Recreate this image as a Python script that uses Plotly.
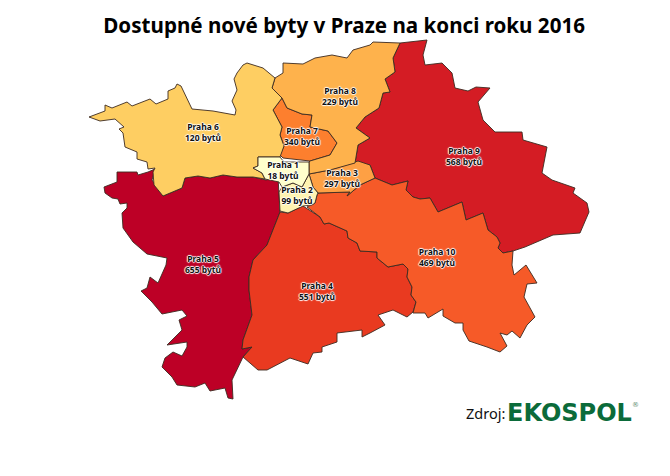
import plotly.graph_objects as go

# outlines, in picture pixels
praha_1 = [(258,157),(280,157),(284,162),(309,162),(309,174),(302,187),(293,183),(282,187),(279,182),
           (265,179),(262,173),(253,168),(258,166)]
praha_2 = [(282,187),(293,183),(302,187),(309,174),(313,187),(318,193),(317,195),(315,203),(312,205),
           (303,206),(288,213),(280,211),(279,192)]
praha_3 = [(309,174),(330,170),(358,161),(370,165),(375,178),(360,185),(347,196),(350,192),(318,193),
           (313,187)]
praha_4 = [(280,212),(288,213),(303,206),(320,217),(324,224),(329,223),(347,231),(348,238),(357,243),
           (360,251),(377,252),(377,258),(388,267),(403,264),(408,269),(407,277),(412,287),(411,295),
           (416,302),(413,312),(407,317),(393,310),(378,315),(385,325),(370,333),(362,337),(362,330),
           (337,333),(337,342),(322,347),(322,352),(313,353),(308,364),(290,358),(267,370),(258,370),
           (243,357),(252,347),(242,349),(243,340),(252,315),(249,290),(249,277),(253,260),(267,245)]
praha_5 = [(117,172),(137,172),(138,175),(148,172),(155,169),(152,180),(163,196),(182,188),(185,178),
           (198,176),(210,178),(223,175),(237,177),(253,177),(266,180),(278,177),(280,212),(267,245),
           (253,260),(249,277),(249,290),(252,315),(243,340),(242,349),(252,347),(243,357),(232,380),
           (233,399),(228,398),(225,388),(210,391),(205,383),(195,387),(177,385),(172,377),(162,367),
           (165,358),(173,352),(182,356),(187,347),(187,342),(167,345),(177,335),(182,330),(179,320),
           (187,316),(182,310),(162,314),(152,302),(141,291),(147,288),(150,277),(158,283),(166,265),
           (167,258),(147,254),(133,242),(123,228),(122,213),(127,208),(127,203),(120,204),(118,199),
           (112,198),(105,193),(104,187),(117,182)]
praha_6 = [(89,117),(105,111),(105,105),(112,108),(127,102),(132,106),(150,99),(156,104),(168,99),
           (168,91),(175,88),(177,84),(181,86),(192,109),(213,111),(235,115),(236,110),(232,101),
           (237,90),(234,79),(237,73),(243,65),(247,63),(263,68),(275,78),(272,88),(282,98),(273,110),
           (282,127),(280,135),(284,146),(280,157),(258,157),(258,166),(253,168),(262,173),(265,179),
           (253,177),(237,177),(223,175),(210,178),(198,176),(185,178),(182,188),(163,196),(154,185),
           (153,172),(155,168),(148,169),(147,162),(137,159),(137,152),(125,147),(123,133),(119,129),
           (124,127),(115,119),(100,121)]
praha_7 = [(282,98),(287,108),(302,114),(312,115),(310,127),(328,131),(337,143),(330,155),(310,161),
           (283,158),(280,155),(284,146),(280,135),(282,127),(273,110)]
praha_8 = [(275,78),(283,73),(283,63),(303,64),(315,58),(332,55),(347,58),(353,50),(370,45),(373,42),
           (400,43),(393,58),(395,72),(385,79),(390,92),(383,93),(379,108),(365,117),(356,128),(370,138),
           (358,145),(355,163),(330,170),(309,174),(309,162),(310,161),(330,155),(337,143),(328,131),
           (310,127),(312,115),(302,114),(287,108),(282,98),(272,88)]
praha_9 = [(400,43),(427,40),(423,55),(425,65),(442,63),(452,73),(455,88),(468,91),(476,87),(490,88),
           (478,102),(483,120),(495,132),(522,132),(523,140),(547,147),(542,173),(552,180),(575,188),
           (573,193),(587,203),(589,212),(580,233),(553,235),(525,247),(513,251),(503,253),(498,248),
           (500,243),(497,237),(488,230),(483,213),(466,220),(462,202),(438,212),(430,198),(420,199),
           (413,197),(406,190),(408,181),(392,185),(375,178),(370,165),(355,163),(358,145),(370,138),
           (356,128),(365,117),(379,108),(383,93),(390,92),(385,79),(395,72),(393,58)]
praha_10 = [(307,207),(315,203),(317,195),(318,193),(350,192),(347,196),(360,185),(375,178),(392,185),
            (408,181),(406,190),(413,197),(420,199),(430,198),(438,212),(462,202),(466,220),(483,213),
            (488,230),(497,237),(500,243),(498,248),(503,253),(513,251),(512,265),(514,275),(526,265),
            (537,283),(527,284),(524,297),(535,317),(527,325),(520,338),(512,331),(507,335),(500,333),
            (507,346),(500,352),(487,347),(469,341),(463,330),(463,323),(455,323),(443,316),(443,309),
            (428,318),(425,313),(413,313),(416,302),(411,295),(412,287),(407,277),(408,269),(403,264),
            (388,267),(377,258),(377,252),(360,251),(357,243),(348,238),(347,231),(329,223),(324,224),
            (320,217)]

districts = ["Praha 5", "Praha 9", "Praha 4", "Praha 10", "Praha 7", "Praha 3", "Praha 8", "Praha 6", "Praha 2", "Praha 1"]
flats = [655, 568, 551, 469, 340, 297, 229, 120, 99, 18]
outlines = [praha_5, praha_9, praha_4, praha_10, praha_7, praha_3, praha_8, praha_6, praha_2, praha_1]
colors = ["#BD0026", "#D41C24", "#E93A20", "#F65A28", "#FD7F2E", "#FEA044", "#FEB24C", "#FECE62", "#FFF3B0", "#FFFFCC"]
label_x = [203, 464, 317, 437, 302, 342, 340, 203, 297, 283]
label_y = [265, 157, 292, 258, 137, 179, 97, 133, 196, 171]

fig = go.Figure()
for name, outline, color in zip(districts, outlines, colors):
    xs = [p[0] for p in outline] + [outline[0][0]]
    ys = [p[1] for p in outline] + [outline[0][1]]
    fig.add_trace(go.Scatter(x=xs, y=ys, mode="lines", fill="toself", fillcolor=color,
                             line=dict(color="#3C2A20", width=0.9), name=name, hoverinfo="name"))

halo = "1px 0 1px #fff, -1px 0 1px #fff, 0 1px 1px #fff, 0 -1px 1px #fff"
fig.add_trace(go.Scatter(x=label_x, y=label_y, mode="text",
                         text=[f"{d}<br>{n} bytů" for d, n in zip(districts, flats)],
                         textposition="middle center",
                         textfont=dict(family="Noto Sans", size=8.5, color="#111", weight="bold", shadow=halo),
                         hoverinfo="skip"))

# the page keeps an 8px body margin, so the figure is 16px smaller than the window
fig.update_layout(
    width=654, height=460, showlegend=False,
    margin=dict(l=0, r=0, t=0, b=0),
    paper_bgcolor="white", plot_bgcolor="white",
    xaxis=dict(range=[8, 662], visible=False),
    yaxis=dict(range=[468, 8], visible=False),
    title=dict(text="<b>Dostupné nové byty v Praze na konci roku 2016</b>", x=0.514, xanchor="center",
               y=0.961, yanchor="middle", font=dict(family="Noto Sans", size=20.6, color="black")),
    annotations=[
        dict(x=507, y=413, xref="x", yref="y", xanchor="right", yanchor="middle", showarrow=False,
             text="Zdroj:", font=dict(family="Noto Sans", size=14.5, color="#111")),
        dict(x=505, y=413, xref="x", yref="y", xanchor="left", yanchor="middle", showarrow=False,
             text="<b>EKOSPOL</b>", font=dict(family="DejaVu Sans", size=24, color="#0B6B3A")),
        dict(x=630, y=405, xref="x", yref="y", xanchor="left", yanchor="middle", showarrow=False,
             text="®", font=dict(family="DejaVu Sans", size=7, color="#5F8F73")),
    ],
)

fig.write_html("out.html")
